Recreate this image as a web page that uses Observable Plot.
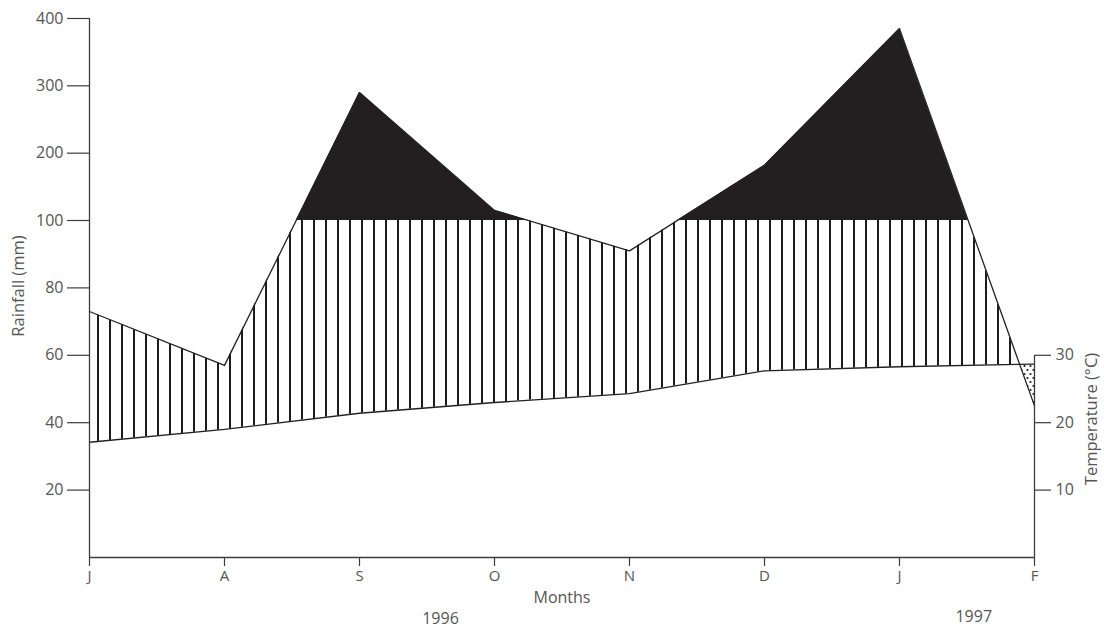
<!DOCTYPE html>
<html>
<head>
<meta charset="utf-8">
<script src="https://cdn.jsdelivr.net/npm/d3@7"></script>
<script src="https://cdn.jsdelivr.net/npm/@observablehq/plot@0.6"></script>
<style>
  html, body { margin: 0; padding: 0; background: #fff; }
</style>
</head>
<body>
<div id="chart"></div>
<script>
// ---- data ----
const months = ["J", "A", "S", "O", "N", "D", "J", "F"];
const rainfall = [73, 57, 290, 115, 91, 182, 385, 45];          // mm
const temperature = [17.1, 19.0, 21.4, 23.0, 24.3, 27.7, 28.3, 28.7]; // °C
const rainTicks = [20, 40, 60, 80, 100, 200, 300, 400];
const tempTicks = [10, 20, 30];
const years = ["1996", "1997"];

// climate-diagram convention: 10 °C is drawn at 20 mm
const data = months.map((m, i) => ({ i, month: m, rain: rainfall[i], temp: temperature[i] * 2 }));

const ink = "#222";
const axisInk = "#3c3c3c";

const chart = Plot.plot({
  width: 1104,
  height: 629,
  marginLeft: 89,
  marginRight: 70,
  marginTop: 18,
  marginBottom: 72,
  style: { fontFamily: "'Open Sans', sans-serif", fontSize: "16px", color: "#555", background: "#fff" },
  x: { type: "linear", domain: [0, 7] },
  y: { type: "linear", domain: [0, 100, 400], range: [557, 220, 18] },
  marks: [
    // clip sources (moved into <clipPath> after rendering)
    Plot.areaY(data, { x: "i", y1: 0, y2: "rain", fill: "none", ariaDescription: "clip-under-rain" }),
    Plot.areaY(data, { x: "i", y1: "rain", y2: 400, fill: "none", ariaDescription: "clip-above-rain" }),
    // humid period: vertical hatching between temperature and rainfall (up to 100 mm)
    Plot.areaY(data, { x: "i", y1: "temp", y2: 100, fill: "url(#hatch)", ariaDescription: "hatch" }),
    // arid period: dots between rainfall and temperature
    Plot.areaY(data, { x: "i", y1: 0, y2: "temp", fill: "url(#dots)", ariaDescription: "dots" }),
    // perhumid: solid black above 100 mm
    Plot.areaY(data, { x: "i", y1: 100, y2: 400, fill: "#231f20", ariaDescription: "black" }),
    // curves
    Plot.line(data, { x: "i", y: "rain", stroke: ink, strokeWidth: 1.3 }),
    Plot.line(data, { x: "i", y: "temp", stroke: ink, strokeWidth: 1.3 }),
    // axis lines
    Plot.ruleX([0], { y1: 0, y2: 400, stroke: axisInk, strokeWidth: 1.3 }),
    Plot.ruleY([0], { x1: 0, x2: 7, stroke: axisInk, strokeWidth: 1.3 }),
    Plot.ruleX([7], { y1: 0, y2: 60, stroke: axisInk, strokeWidth: 1.3 }),
    // axes
    Plot.axisY(rainTicks, { anchor: "left", tickSize: 22, tickPadding: 4, label: null, stroke: axisInk, strokeWidth: 1.2 }),
    Plot.axisY(tempTicks.map(t => t * 2), { anchor: "right", tickFormat: d => d / 2, tickSize: 16, tickPadding: 5, label: null, stroke: axisInk, strokeWidth: 1.2 }),
    Plot.axisX(d3.range(months.length), { anchor: "bottom", tickFormat: i => months[i], tickSize: 9, tickPadding: 4, label: null, stroke: axisInk, strokeWidth: 1.2, fontSize: 15 }),
    // titles
    Plot.text(["Rainfall (mm)"], { frameAnchor: "left", textAnchor: "middle", rotate: -90, dx: -71, dy: -2, fontSize: 16.5 }),
    Plot.text(["Temperature (°C)"], { frameAnchor: "right", textAnchor: "middle", rotate: -90, dx: 57, dy: 131, fontSize: 16.5 }),
    Plot.text(["Months"], { frameAnchor: "bottom", dy: 45, fontSize: 16 }),
    Plot.text([years[0]], { x: [2.6], frameAnchor: "bottom", dy: 66, fontSize: 16 }),
    Plot.text([years[1]], { x: [6.55], frameAnchor: "bottom", dy: 64, fontSize: 16 })
  ]
});

// ---- patterns and clipping ----
const ns = "http://www.w3.org/2000/svg";
const defs = document.createElementNS(ns, "defs");
defs.innerHTML = `
  <pattern id="hatch" patternUnits="userSpaceOnUse" x="0" y="0" width="12" height="12">
    <rect x="1" y="0" width="2" height="12" fill="#1c1c1c"></rect>
  </pattern>
  <pattern id="dots" patternUnits="userSpaceOnUse" x="0" y="0" width="6" height="8">
    <rect width="6" height="8" fill="#fff"></rect>
    <circle cx="1.5" cy="2" r="1.1" fill="#1c1c1c"></circle>
    <circle cx="4.5" cy="6" r="1.1" fill="#1c1c1c"></circle>
  </pattern>`;
chart.insertBefore(defs, chart.firstChild);

const group = desc => chart.querySelector(`g[aria-description="${desc}"]`);
function makeClip(id, desc) {
  const g = group(desc);
  const cp = document.createElementNS(ns, "clipPath");
  cp.setAttribute("id", id);
  g.querySelectorAll("path").forEach(p => cp.appendChild(p));
  g.remove();
  defs.appendChild(cp);
}
makeClip("underRain", "clip-under-rain");
makeClip("aboveRain", "clip-above-rain");
group("hatch").setAttribute("clip-path", "url(#underRain)");
group("black").setAttribute("clip-path", "url(#underRain)");
group("dots").setAttribute("clip-path", "url(#aboveRain)");

document.getElementById("chart").appendChild(chart);
</script>
</body>
</html>
